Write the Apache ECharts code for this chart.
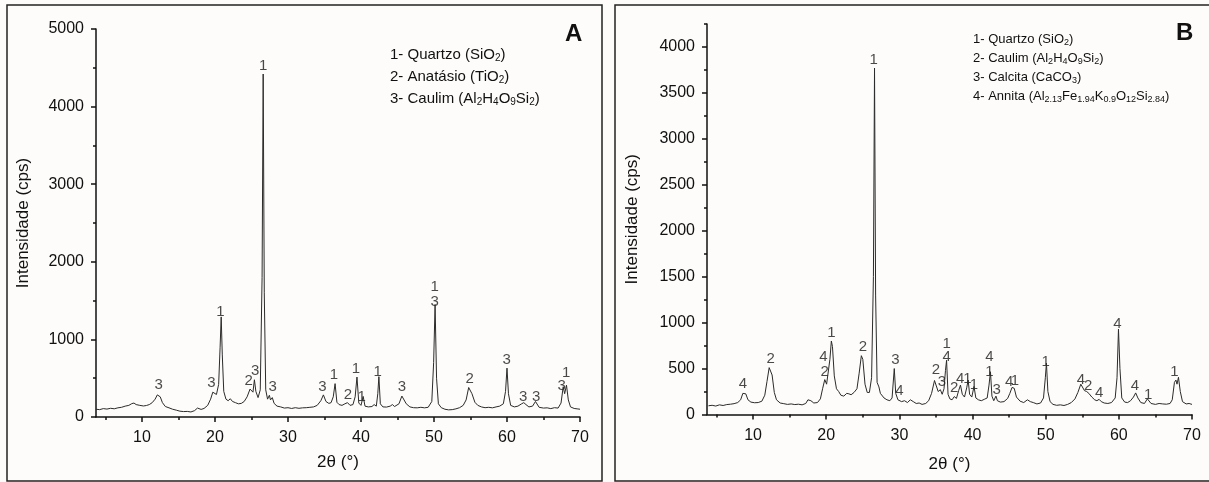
<!DOCTYPE html>
<html>
<head>
<meta charset="utf-8">
<script src="https://cdn.jsdelivr.net/npm/echarts@6/dist/echarts.min.js"></script>
<style>
  html, body { margin: 0; padding: 0; background: #fdfcfa; }
  #chart { width: 1209px; height: 482px; }
</style>
</head>
<body>
<div id="chart"></div>
<script>
// difratograma A  [2theta, cps]
const xrdA = [
  [3.7,100],[4.2,95],[4.7,108],[5.2,102],[5.7,112],[6.2,106],[6.7,118],[7.2,125],[7.7,140],[8.2,150],
  [8.6,172],[8.9,180],[9.2,160],[9.7,150],[10.2,142],[10.6,148],[11.0,160],[11.4,185],[11.8,230],[12.1,285],
  [12.3,300],[12.5,260],[12.8,185],[13.2,135],[13.7,118],[14.2,100],[14.7,88],[15.2,75],[15.7,70],[16.2,72],
  [16.7,65],[17.2,82],[17.6,115],[17.8,130],[18.1,98],[18.5,110],[19.0,150],[19.4,230],[19.7,320],[19.9,330],
  [20.2,290],[20.5,420],[20.7,900],[20.85,1290],[21.0,800],[21.2,330],[21.5,230],[21.8,210],[22.1,235],[22.4,200],
  [22.8,185],[23.2,170],[23.6,175],[24.0,200],[24.4,260],[24.8,360],[25.0,375],[25.2,320],[25.4,480],[25.6,330],
  [25.9,250],[26.2,350],[26.45,1800],[26.6,4420],[26.75,1600],[26.95,350],[27.2,230],[27.45,280],[27.6,220],[27.85,250],
  [28.1,175],[28.5,140],[29.0,130],[29.5,115],[30.0,120],[30.5,110],[31.0,120],[31.5,112],[32.0,118],[32.5,120],
  [33.0,125],[33.5,130],[34.0,150],[34.5,210],[34.85,285],[35.2,200],[35.6,175],[35.9,185],[36.2,260],[36.45,430],
  [36.7,190],[37.0,160],[37.4,150],[37.8,170],[38.15,185],[38.5,150],[38.9,160],[39.2,260],[39.45,515],[39.7,180],
  [40.0,150],[40.3,265],[40.55,140],[41.0,130],[41.5,135],[41.8,160],[42.1,140],[42.3,300],[42.45,520],[42.65,170],
  [43.0,130],[43.5,128],[44.0,140],[44.3,160],[44.6,135],[45.2,170],[45.6,270],[45.85,285],[46.2,170],[46.7,130],
  [47.2,120],[47.7,118],[48.2,125],[48.7,118],[49.2,125],[49.7,200],[49.95,700],[50.15,1450],[50.35,500],[50.6,170],
  [51.0,120],[51.5,100],[52.0,92],[52.5,95],[53.0,105],[53.5,120],[54.0,150],[54.4,220],[54.75,380],[54.95,400],
  [55.2,300],[55.6,190],[56.0,150],[56.5,130],[57.0,120],[57.5,125],[58.0,118],[58.5,130],[59.0,140],[59.5,170],
  [59.8,330],[60.0,630],[60.2,300],[60.5,150],[61.0,130],[61.5,140],[62.0,170],[62.3,185],[62.6,160],[63.0,130],
  [63.5,140],[63.9,200],[64.1,180],[64.4,125],[65.0,115],[65.5,118],[66.0,108],[66.5,120],[67.0,115],[67.4,180],
  [67.7,390],[67.9,300],[68.15,410],[68.4,220],[68.7,130],[69.2,110],[69.6,105],[70,100]
]

// difratograma B
const xrdB = [
  [3.9,95],[4.4,100],[4.9,92],[5.4,105],[5.9,98],[6.4,108],[6.9,112],[7.4,118],[7.9,130],[8.3,160],
  [8.6,230],[8.8,250],[9.0,225],[9.3,160],[9.7,135],[10.2,128],[10.7,130],[11.2,145],[11.6,210],[11.9,360],
  [12.2,510],[12.4,530],[12.6,430],[12.9,240],[13.2,160],[13.7,125],[14.2,118],[14.7,110],[15.2,115],[15.7,108],
  [16.2,112],[16.7,105],[17.2,120],[17.5,160],[17.7,180],[17.9,150],[18.3,125],[18.8,130],[19.2,170],[19.5,280],
  [19.8,380],[20.05,330],[20.3,350],[20.5,600],[20.7,800],[20.85,740],[21.1,420],[21.4,280],[21.7,250],[22.0,210],
  [22.4,200],[22.8,230],[23.1,225],[23.4,215],[23.8,240],[24.2,280],[24.5,450],[24.8,640],[25.0,600],[25.3,330],
  [25.6,240],[25.9,240],[26.2,400],[26.45,1500],[26.6,3770],[26.75,1300],[26.95,350],[27.2,300],[27.4,230],[27.6,240],
  [27.9,180],[28.3,160],[28.7,150],[29.0,180],[29.3,500],[29.5,230],[29.8,160],[30.0,180],[30.3,140],[30.7,150],
  [31.1,130],[31.5,160],[31.9,140],[32.3,120],[32.7,125],[33.1,110],[33.6,120],[34.0,150],[34.4,230],[34.8,370],
  [35.0,390],[35.3,250],[35.6,270],[35.85,220],[36.1,280],[36.3,480],[36.45,590],[36.65,220],[36.9,170],[37.2,160],
  [37.5,195],[37.8,175],[38.1,260],[38.35,320],[38.6,220],[38.9,190],[39.2,290],[39.4,375],[39.6,220],[39.9,190],
  [40.2,305],[40.45,180],[40.8,160],[41.2,150],[41.6,165],[42.0,180],[42.25,320],[42.45,465],[42.65,200],[42.9,150],
  [43.2,200],[43.4,150],[43.8,135],[44.3,140],[44.8,175],[45.1,230],[45.4,295],[45.7,285],[46.0,190],[46.5,145],
  [47.0,130],[47.5,160],[47.9,140],[48.3,130],[48.8,115],[49.3,125],[49.7,180],[49.95,400],[50.1,560],[50.3,250],
  [50.6,140],[51.0,110],[51.5,100],[52.0,105],[52.5,98],[53.0,110],[53.5,130],[54.0,170],[54.4,240],[54.8,330],
  [55.05,340],[55.3,260],[55.6,250],[55.9,230],[56.3,190],[56.7,160],[57.0,150],[57.3,165],[57.6,140],[58.0,125],
  [58.5,120],[59.0,130],[59.5,180],[59.75,400],[59.95,930],[60.15,500],[60.4,180],[60.8,135],[61.2,130],[61.6,150],
  [62.0,190],[62.3,235],[62.6,180],[63.0,130],[63.5,120],[63.9,170],[64.1,175],[64.4,120],[65.0,110],[65.5,120],
  [66.0,115],[66.5,112],[67.0,120],[67.3,160],[67.6,350],[67.8,375],[67.95,330],[68.15,405],[68.4,250],[68.7,140],
  [69.2,115],[69.6,120],[70,110]
]

// rotulos dos picos [2theta, cps, fase]
const peaksA = [
  [12.3,413,'3'],[19.5,435,'3'],[20.75,1360,'1'],[24.6,464,'2'],[25.5,597,'3'],[26.6,4520,'1'],
  [27.9,391,'3'],[34.7,391,'3'],[36.3,542,'1'],[38.2,284,'2'],[39.3,619,'1'],[40.1,254,'1'],
  [42.3,585,'1'],[45.6,391,'3'],[50.1,1681,'1'],[50.1,1487,'3'],[54.9,486,'2'],[59.95,735,'3'],
  [62.2,262,'3'],[64.0,262,'3'],[67.5,400,'3'],[68.1,572,'1']
]
const peaksB = [
  [8.6,332,'4'],[12.4,611,'2'],[19.6,628,'4'],[19.8,465,'2'],[20.7,889,'1'],[25.0,737,'2'],
  [26.5,3861,'1'],[29.45,592,'3'],[30.0,255,'4'],[35.0,484,'2'],[35.8,357,'3'],[36.45,774,'1'],
  [36.45,622,'4'],[37.5,285,'2'],[38.3,393,'4'],[39.3,393,'1'],[40.2,321,'1'],[42.3,628,'4'],
  [42.3,465,'1'],[43.3,266,'3'],[45.0,357,'4'],[45.8,370,'1'],[50.0,574,'1'],[54.8,382,'4'],
  [55.8,310,'2'],[57.3,237,'4'],[59.8,991,'4'],[62.2,310,'4'],[64.0,212,'1'],[67.6,465,'1']
]

const xMajor = [10, 20, 30, 40, 50, 60, 70]
const xMinor = [5, 15, 25, 35, 45, 55, 65]
const yMajorA = [0, 1000, 2000, 3000, 4000, 5000]
const yMinorA = [500, 1500, 2500, 3500, 4500]
const yMajorB = [0, 500, 1000, 1500, 2000, 2500, 3000, 3500, 4000]
const yMinorB = [250, 750, 1250, 1750, 2250, 2750, 3250, 3750, 4250]

// legenda das fases: trechos [texto, subscrito?]
const legendA = [
  [['1- Quartzo (SiO', 0], ['2', 1], [')', 0]],
  [['2- Anatásio (TiO', 0], ['2', 1], [')', 0]],
  [['3- Caulim (Al', 0], ['2', 1], ['H', 0], ['4', 1], ['O', 0], ['9', 1], ['Si', 0], ['2', 1], [')', 0]]
]
const legendB = [
  [['1- Quartzo (SiO', 0], ['2', 1], [')', 0]],
  [['2- Caulim (Al', 0], ['2', 1], ['H', 0], ['4', 1], ['O', 0], ['9', 1], ['Si', 0], ['2', 1], [')', 0]],
  [['3- Calcita (CaCO', 0], ['3', 1], [')', 0]],
  [['4- Annita (Al', 0], ['2.13', 1], ['Fe', 0], ['1.94', 1], ['K', 0], ['0.9', 1], ['O', 0], ['12', 1], ['Si', 0], ['2.84', 1], [')', 0]]
]

const FONT = '"Liberation Sans", Arial, sans-serif'
const INK = '#111'

const chart = echarts.init(document.getElementById('chart'))

const richLine = (parts) => parts.map(p => (p[1] ? '{s|' : '{n|') + p[0] + '}').join('')

const legendGraphic = (lines, left, top, size, gap) => lines.map((parts, i) => ({
  type: 'text',
  left: left,
  top: top + i * gap,
  style: {
    text: richLine(parts),
    rich: {
      n: { fontSize: size, fontFamily: FONT, fill: INK, lineHeight: size + 3 },
      s: { fontSize: Math.round(size * 0.66), fontFamily: FONT, fill: INK, verticalAlign: 'bottom', lineHeight: Math.round(size * 0.66) }
    }
  }
}))

const mainX = (gi, gap) => ({
  type: 'value', gridIndex: gi, min: 3.7, max: 70, position: 'bottom',
  name: '2θ (°)', nameLocation: 'middle', nameGap: gap,
  nameTextStyle: { fontSize: 17, color: INK, fontFamily: FONT },
  axisLine: { onZero: false, lineStyle: { color: INK, width: 1.5 } },
  axisTick: { customValues: xMajor, length: 5, lineStyle: { color: INK, width: 1.5 } },
  axisLabel: { customValues: xMajor, fontSize: 16, color: INK, fontFamily: FONT, margin: 13 },
  splitLine: { show: false }
})
const minorX = (gi) => ({
  type: 'value', gridIndex: gi, min: 3.7, max: 70, position: 'bottom',
  axisLine: { show: false },
  axisTick: { customValues: xMinor, length: 3, lineStyle: { color: INK, width: 1.5 } },
  axisLabel: { show: false },
  splitLine: { show: false }
})
const mainY = (gi, max, major, gap) => ({
  type: 'value', gridIndex: gi, min: 0, max: max, position: 'left',
  name: 'Intensidade (cps)', nameLocation: 'middle', nameGap: gap,
  nameTextStyle: { fontSize: 17, color: INK, fontFamily: FONT },
  axisLine: { show: true, lineStyle: { color: INK, width: 1.5 } },
  axisTick: { show: true, customValues: major, length: 5, lineStyle: { color: INK, width: 1.5 } },
  axisLabel: { customValues: major, formatter: v => String(v), fontSize: 16, color: INK, fontFamily: FONT, margin: 12 },
  splitLine: { show: false }
})
const minorY = (gi, max, minor) => ({
  type: 'value', gridIndex: gi, min: 0, max: max, position: 'left',
  axisLine: { show: false },
  axisTick: { show: true, customValues: minor, length: 3, lineStyle: { color: INK, width: 1.5 } },
  axisLabel: { show: false },
  splitLine: { show: false }
})

const peakLabels = (data, xi, yi) => ({
  type: 'scatter', xAxisIndex: xi, yAxisIndex: yi, silent: true,
  symbolSize: 0,
  data: data,
  label: {
    show: true, position: 'inside', formatter: p => p.value[2],
    fontSize: 15, color: '#1a1a1a', fontFamily: FONT
  }
})

const option = {
  backgroundColor: '#fdfcfa',
  animation: false,
  grid: [
    { left: 96, top: 29, width: 484, height: 388 },
    { left: 707, top: 24, width: 485, height: 390.5 }
  ],
  xAxis: [mainX(0, 37), minorX(0), mainX(1, 41), minorX(1)],
  yAxis: [mainY(0, 5000, yMajorA, 64), minorY(0, 5000, yMinorA), mainY(1, 4250, yMajorB, 66), minorY(1, 4250, yMinorB)],
  series: [
    {
      type: 'line', xAxisIndex: 0, yAxisIndex: 0, data: xrdA, showSymbol: false, silent: true,
      lineStyle: { color: '#2b2b2b', width: 1 }
    },
    {
      type: 'line', xAxisIndex: 2, yAxisIndex: 2, data: xrdB, showSymbol: false, silent: true,
      lineStyle: { color: '#2b2b2b', width: 1 }
    },
    peakLabels(peaksA, 0, 0),
    peakLabels(peaksB, 2, 2)
  ],
  graphic: [
    { type: 'rect', shape: { x: 7, y: 5, width: 595, height: 476 }, style: { fill: 'none', stroke: '#222', lineWidth: 1.5 } },
    { type: 'rect', shape: { x: 615, y: 5, width: 600, height: 476 }, style: { fill: 'none', stroke: '#222', lineWidth: 1.5 } },
    { type: 'text', left: 565, top: 22, style: { text: 'A', fontSize: 24, fontWeight: 'bold', fontFamily: FONT, fill: INK } },
    { type: 'text', left: 1176, top: 21, style: { text: 'B', fontSize: 24, fontWeight: 'bold', fontFamily: FONT, fill: INK } },
    ...legendGraphic(legendA, 390, 47, 15, 22),
    ...legendGraphic(legendB, 973, 33, 13, 19)
  ]
}

chart.setOption(option)
</script>
</body>
</html>
